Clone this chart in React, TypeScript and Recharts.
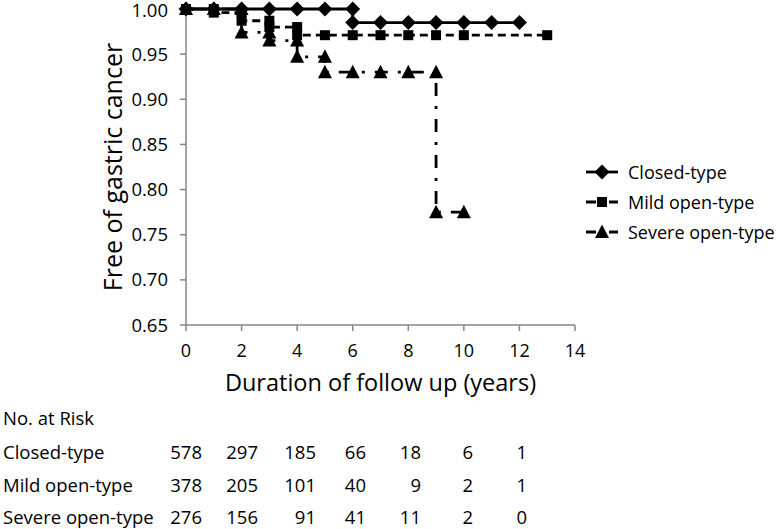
import React from "react";
import {
  LineChart,
  Line,
  XAxis,
  YAxis,
  Legend,
} from "recharts";

// Kaplan-Meier step points (time in years, survival free of gastric cancer)
const closedT = [0, 1, 2, 3, 4, 5, 6, 6, 7, 8, 9, 10, 11, 12];
const closedS = [1, 1, 1, 1, 1, 1, 1, 0.985, 0.985, 0.985, 0.985, 0.985, 0.985, 0.985];

const mildT = [0, 1, 1, 2, 2, 3, 3, 4, 4, 5, 6, 7, 8, 9, 10, 13];
const mildS = [1, 1, 0.996, 0.996, 0.987, 0.987, 0.98, 0.98, 0.971, 0.971, 0.971, 0.971, 0.971, 0.971, 0.971, 0.971];

const severeT = [0, 1, 2, 2, 3, 3, 4, 4, 5, 5, 6, 7, 8, 9, 9, 10];
const severeS = [1, 1, 1, 0.974, 0.974, 0.965, 0.965, 0.947, 0.947, 0.93, 0.93, 0.93, 0.93, 0.93, 0.775, 0.775];

const xTicks = [0, 2, 4, 6, 8, 10, 12, 14];
const yTicks = [0.65, 0.7, 0.75, 0.8, 0.85, 0.9, 0.95, 1.0];

// number at risk table
const riskGroups = ["Closed-type", "Mild open-type", "Severe open-type"];
const riskClosed = [578, 297, 185, 66, 18, 6, 1];
const riskMild = [378, 205, 101, 40, 9, 2, 1];
const riskSevere = [276, 156, 91, 41, 11, 2, 0];

const toRows = (t: number[], s: number[]) => t.map((v, i) => ({ t: v, s: s[i] }));

const FONT = "'Open Sans', sans-serif";
const AXIS = "#868686";

const Diamond = ({ cx, cy }: any) => (
  <path d={`M${cx},${cy - 7.5}L${cx + 7.5},${cy}L${cx},${cy + 7.5}L${cx - 7.5},${cy}Z`} fill="#000" />
);
const Square = ({ cx, cy }: any) => (
  <rect x={cx - 5} y={cy - 5} width={10} height={10} fill="#000" />
);
const Triangle = ({ cx, cy }: any) => (
  <path d={`M${cx},${cy - 7.5}L${cx + 7},${cy + 6}L${cx - 7},${cy + 6}Z`} fill="#000" />
);

const series = [
  { name: "Closed-type", rows: toRows(closedT, closedS), Shape: Diamond, dash: undefined },
  { name: "Mild open-type", rows: toRows(mildT, mildS), Shape: Square, dash: "8 5" },
  { name: "Severe open-type", rows: toRows(severeT, severeS), Shape: Triangle, dash: "13 10 3 10" },
];

const renderLegend = () => (
  <div>
    {series.map((s) => (
      <div key={s.name} style={{ display: "flex", alignItems: "center", height: 30 }}>
        <svg width={48} height={20}>
          <line x1={6} y1={10} x2={38} y2={10} stroke="#000" strokeWidth={2.8} strokeDasharray={s.dash ? "10 5 3 5" : undefined} />
          <s.Shape cx={22} cy={10} />
        </svg>
        <span style={{ fontSize: 18, color: "#000", fontFamily: FONT }}>{s.name}</span>
      </div>
    ))}
  </div>
);

const colRight = [202, 258, 316, 366, 421, 473, 527];
const rowCenter = [452, 485, 517];

export default function App() {
  const riskRows = [riskClosed, riskMild, riskSevere];
  return (
    <div style={{ position: "absolute", left: 0, top: 0, width: 777, height: 529, background: "#fff", fontFamily: FONT }}>
      <LineChart
        width={777}
        height={529}
        margin={{ top: 9, right: 202, bottom: 134, left: 40 }}
      >
        <XAxis
          type="number"
          dataKey="t"
          domain={[0, 14]}
          ticks={xTicks}
          height={70}
          tickSize={6}
          tickMargin={13}
          tick={{ fill: "#000", fontSize: 18 }}
          axisLine={{ stroke: AXIS, strokeWidth: 1.5 }}
          tickLine={{ stroke: AXIS, strokeWidth: 1.5 }}
          label={{ value: "Duration of follow up (years)", position: "insideTop", offset: 49, fill: "#000", fontSize: 23.5 }}
        />
        <YAxis
          type="number"
          dataKey="s"
          domain={[0.65, 1.0]}
          ticks={yTicks}
          width={146}
          tickSize={6}
          tickMargin={12}
          tickFormatter={(v: number) => v.toFixed(2)}
          tick={{ fill: "#000", fontSize: 18.5 }}
          axisLine={{ stroke: AXIS, strokeWidth: 1.5 }}
          tickLine={{ stroke: AXIS, strokeWidth: 1.5 }}
          label={{ value: "Free of gastric cancer", angle: -90, position: "center", fill: "#000", fontSize: 25 }}
        />
        <Legend
          layout="vertical"
          align="center"
          verticalAlign="middle"
          content={renderLegend}
          wrapperStyle={{ left: 580, top: 157, width: 197 }}
        />
        {series.map((s) => (
          <Line
            key={s.name}
            name={s.name}
            data={s.rows}
            dataKey="s"
            type="linear"
            stroke="#000"
            strokeWidth={2.8}
            strokeDasharray={s.dash}
            dot={(p: any) => <s.Shape key={p.index} cx={p.cx} cy={p.cy} />}
            activeDot={false}
            isAnimationActive={false}
          />
        ))}
      </LineChart>

      <div style={{ position: "absolute", left: 3, top: 406, fontSize: 18.5, lineHeight: "24px", color: "#000" }}>No. at Risk</div>
      {riskGroups.map((g, r) => (
        <React.Fragment key={g}>
          <div style={{ position: "absolute", left: 3, top: rowCenter[r] - 12, fontSize: 18.5, lineHeight: "24px", color: "#000", whiteSpace: "nowrap" }}>
            {g}
          </div>
          {riskRows[r].map((n, c) => (
            <div
              key={c}
              style={{ position: "absolute", left: colRight[c] - 50, width: 50, textAlign: "right", top: rowCenter[r] - 12, fontSize: 18.5, lineHeight: "24px", color: "#000" }}
            >
              {n}
            </div>
          ))}
        </React.Fragment>
      ))}
    </div>
  );
}
